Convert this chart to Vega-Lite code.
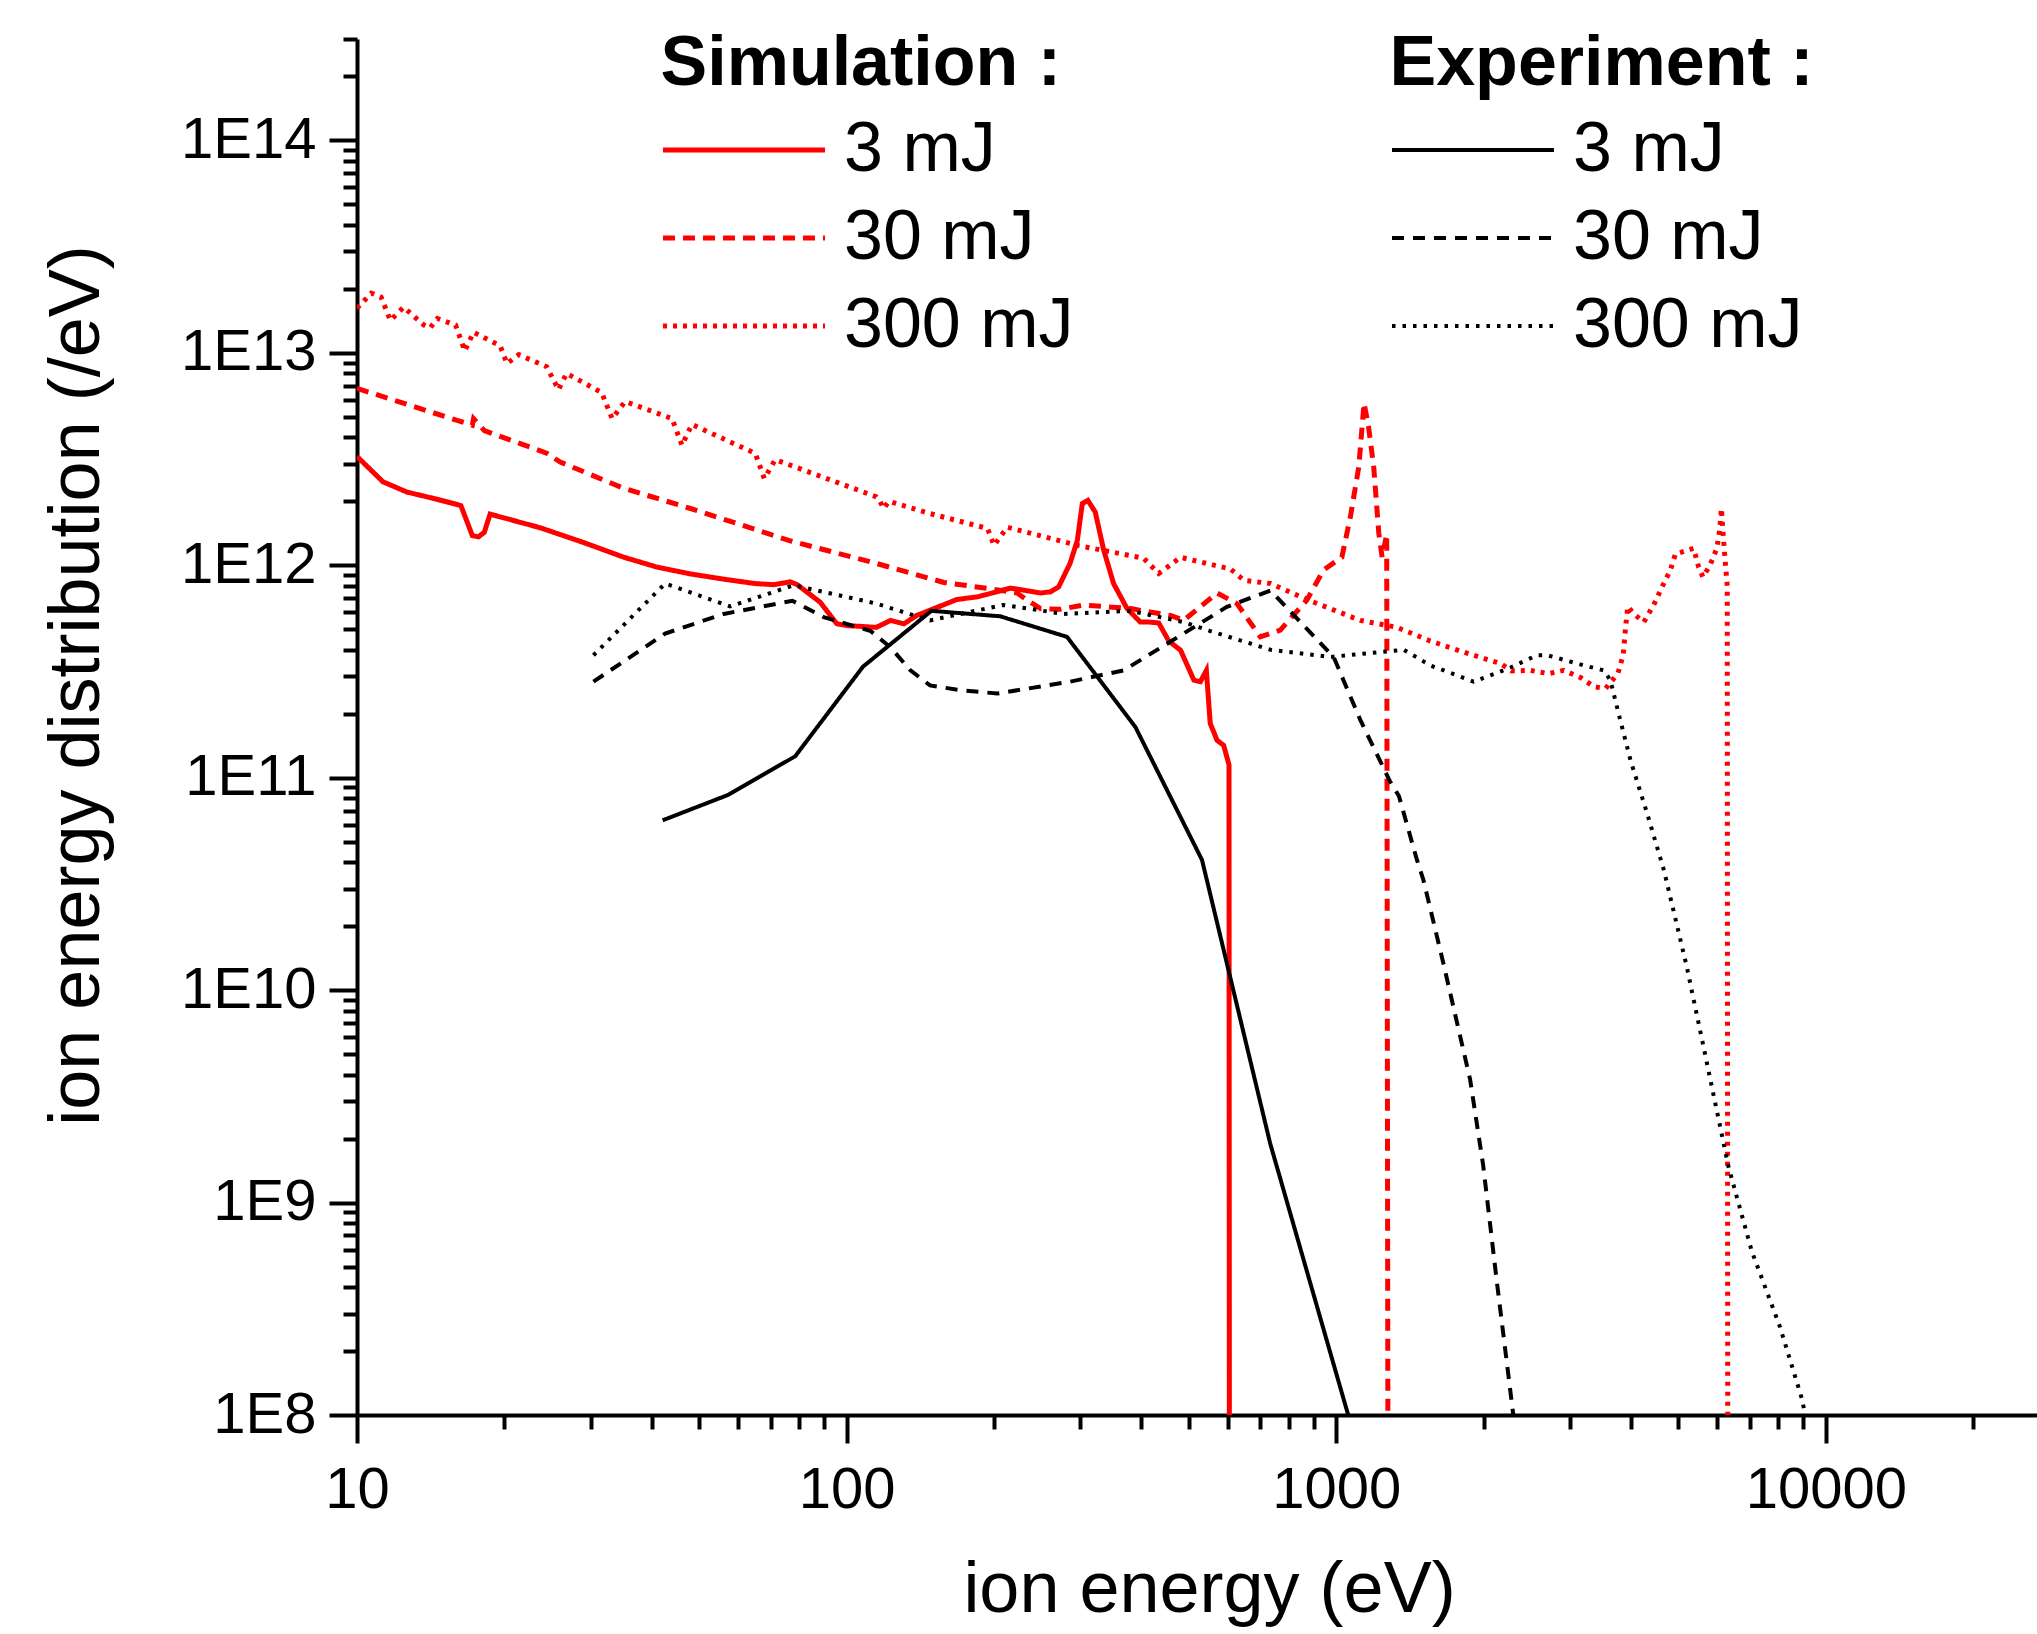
{
  "$schema": "https://vega.github.io/schema/vega-lite/v6.json",
  "width": 1680,
  "height": 1376,
  "autosize": {"type": "none"},
  "padding": {"left": 357, "top": 39, "right": 0, "bottom": 219},
  "background": "white",
  "config": {"font": "Liberation Sans", "view": {"stroke": null}},
  "datasets": {
    "sim": [
      {"pulse":"3 mJ","ion_energy":10,"distribution":3.25e12},
      {"pulse":"3 mJ","ion_energy":11.3,"distribution":2.47e12},
      {"pulse":"3 mJ","ion_energy":12.65,"distribution":2.21e12},
      {"pulse":"3 mJ","ion_energy":14.5,"distribution":2.05e12},
      {"pulse":"3 mJ","ion_energy":16.3,"distribution":1.91e12},
      {"pulse":"3 mJ","ion_energy":17.2,"distribution":1.38e12},
      {"pulse":"3 mJ","ion_energy":17.7,"distribution":1.36e12},
      {"pulse":"3 mJ","ion_energy":18.2,"distribution":1.43e12},
      {"pulse":"3 mJ","ion_energy":18.7,"distribution":1.74e12},
      {"pulse":"3 mJ","ion_energy":23.7,"distribution":1.5e12},
      {"pulse":"3 mJ","ion_energy":29,"distribution":1.28e12},
      {"pulse":"3 mJ","ion_energy":35.1,"distribution":1.09e12},
      {"pulse":"3 mJ","ion_energy":41,"distribution":9.8e11},
      {"pulse":"3 mJ","ion_energy":48,"distribution":9.1e11},
      {"pulse":"3 mJ","ion_energy":56.1,"distribution":8.6e11},
      {"pulse":"3 mJ","ion_energy":65,"distribution":8.2e11},
      {"pulse":"3 mJ","ion_energy":71,"distribution":8.1e11},
      {"pulse":"3 mJ","ion_energy":76.7,"distribution":8.35e11},
      {"pulse":"3 mJ","ion_energy":79.3,"distribution":8.1e11},
      {"pulse":"3 mJ","ion_energy":88.3,"distribution":6.7e11},
      {"pulse":"3 mJ","ion_energy":95.5,"distribution":5.3e11},
      {"pulse":"3 mJ","ion_energy":100.2,"distribution":5.2e11},
      {"pulse":"3 mJ","ion_energy":115,"distribution":5.1e11},
      {"pulse":"3 mJ","ion_energy":123,"distribution":5.5e11},
      {"pulse":"3 mJ","ion_energy":131,"distribution":5.3e11},
      {"pulse":"3 mJ","ion_energy":139,"distribution":5.8e11},
      {"pulse":"3 mJ","ion_energy":168,"distribution":6.9e11},
      {"pulse":"3 mJ","ion_energy":185,"distribution":7.1e11},
      {"pulse":"3 mJ","ion_energy":216,"distribution":7.8e11},
      {"pulse":"3 mJ","ion_energy":225,"distribution":7.7e11},
      {"pulse":"3 mJ","ion_energy":249,"distribution":7.4e11},
      {"pulse":"3 mJ","ion_energy":261,"distribution":7.5e11},
      {"pulse":"3 mJ","ion_energy":271,"distribution":7.9e11},
      {"pulse":"3 mJ","ion_energy":286,"distribution":1.02e12},
      {"pulse":"3 mJ","ion_energy":296,"distribution":1.31e12},
      {"pulse":"3 mJ","ion_energy":303,"distribution":1.95e12},
      {"pulse":"3 mJ","ion_energy":311,"distribution":2.02e12},
      {"pulse":"3 mJ","ion_energy":322,"distribution":1.78e12},
      {"pulse":"3 mJ","ion_energy":335,"distribution":1.18e12},
      {"pulse":"3 mJ","ion_energy":351,"distribution":8.2e11},
      {"pulse":"3 mJ","ion_energy":374,"distribution":6.25e11},
      {"pulse":"3 mJ","ion_energy":398,"distribution":5.4e11},
      {"pulse":"3 mJ","ion_energy":415,"distribution":5.4e11},
      {"pulse":"3 mJ","ion_energy":434,"distribution":5.35e11},
      {"pulse":"3 mJ","ion_energy":455,"distribution":4.4e11},
      {"pulse":"3 mJ","ion_energy":481,"distribution":3.98e11},
      {"pulse":"3 mJ","ion_energy":512,"distribution":2.88e11},
      {"pulse":"3 mJ","ion_energy":528,"distribution":2.83e11},
      {"pulse":"3 mJ","ion_energy":543,"distribution":3.2e11},
      {"pulse":"3 mJ","ion_energy":553,"distribution":1.8e11},
      {"pulse":"3 mJ","ion_energy":571,"distribution":1.5e11},
      {"pulse":"3 mJ","ion_energy":589,"distribution":1.42e11},
      {"pulse":"3 mJ","ion_energy":604,"distribution":1.15e11},
      {"pulse":"3 mJ","ion_energy":605,"distribution":1e8},

      {"pulse":"30 mJ","ion_energy":10,"distribution":6.8e12},
      {"pulse":"30 mJ","ion_energy":17.2,"distribution":4.56e12},
      {"pulse":"30 mJ","ion_energy":17.3,"distribution":4.9e12},
      {"pulse":"30 mJ","ion_energy":18.2,"distribution":4.3e12},
      {"pulse":"30 mJ","ion_energy":24.4,"distribution":3.37e12},
      {"pulse":"30 mJ","ion_energy":26,"distribution":3.06e12},
      {"pulse":"30 mJ","ion_energy":35.1,"distribution":2.3e12},
      {"pulse":"30 mJ","ion_energy":48,"distribution":1.85e12},
      {"pulse":"30 mJ","ion_energy":77,"distribution":1.3e12},
      {"pulse":"30 mJ","ion_energy":115,"distribution":1.02e12},
      {"pulse":"30 mJ","ion_energy":158,"distribution":8.3e11},
      {"pulse":"30 mJ","ion_energy":200,"distribution":7.7e11},
      {"pulse":"30 mJ","ion_energy":223,"distribution":7.4e11},
      {"pulse":"30 mJ","ion_energy":235,"distribution":6.8e11},
      {"pulse":"30 mJ","ion_energy":249,"distribution":6.25e11},
      {"pulse":"30 mJ","ion_energy":273,"distribution":6.2e11},
      {"pulse":"30 mJ","ion_energy":305,"distribution":6.5e11},
      {"pulse":"30 mJ","ion_energy":380,"distribution":6.25e11},
      {"pulse":"30 mJ","ion_energy":459,"distribution":5.8e11},
      {"pulse":"30 mJ","ion_energy":488,"distribution":5.5e11},
      {"pulse":"30 mJ","ion_energy":571,"distribution":7.4e11},
      {"pulse":"30 mJ","ion_energy":627,"distribution":6.6e11},
      {"pulse":"30 mJ","ion_energy":700,"distribution":4.6e11},
      {"pulse":"30 mJ","ion_energy":769,"distribution":4.95e11},
      {"pulse":"30 mJ","ion_energy":871,"distribution":6.85e11},
      {"pulse":"30 mJ","ion_energy":942,"distribution":9.5e11},
      {"pulse":"30 mJ","ion_energy":1027,"distribution":1.09e12},
      {"pulse":"30 mJ","ion_energy":1069,"distribution":1.69e12},
      {"pulse":"30 mJ","ion_energy":1112,"distribution":2.9e12},
      {"pulse":"30 mJ","ion_energy":1140,"distribution":5.8e12},
      {"pulse":"30 mJ","ion_energy":1164,"distribution":4.5e12},
      {"pulse":"30 mJ","ion_energy":1193,"distribution":2.9e12},
      {"pulse":"30 mJ","ion_energy":1222,"distribution":1.41e12},
      {"pulse":"30 mJ","ion_energy":1241,"distribution":1.09e12},
      {"pulse":"30 mJ","ion_energy":1268,"distribution":1.4e12},
      {"pulse":"30 mJ","ion_energy":1275,"distribution":1e8},

      {"pulse":"300 mJ","ion_energy":10,"distribution":1.62e13},
      {"pulse":"300 mJ","ion_energy":10.7,"distribution":1.91e13},
      {"pulse":"300 mJ","ion_energy":11.2,"distribution":1.83e13},
      {"pulse":"300 mJ","ion_energy":11.7,"distribution":1.42e13},
      {"pulse":"300 mJ","ion_energy":12.45,"distribution":1.64e13},
      {"pulse":"300 mJ","ion_energy":13.7,"distribution":1.35e13},
      {"pulse":"300 mJ","ion_energy":14.1,"distribution":1.31e13},
      {"pulse":"300 mJ","ion_energy":14.6,"distribution":1.45e13},
      {"pulse":"300 mJ","ion_energy":15.9,"distribution":1.35e13},
      {"pulse":"300 mJ","ion_energy":16.6,"distribution":1.02e13},
      {"pulse":"300 mJ","ion_energy":17.3,"distribution":1.25e13},
      {"pulse":"300 mJ","ion_energy":19.6,"distribution":1.08e13},
      {"pulse":"300 mJ","ion_energy":20.25,"distribution":8.9e12},
      {"pulse":"300 mJ","ion_energy":21.4,"distribution":9.8e12},
      {"pulse":"300 mJ","ion_energy":24.4,"distribution":8.6e12},
      {"pulse":"300 mJ","ion_energy":25.8,"distribution":6.7e12},
      {"pulse":"300 mJ","ion_energy":26.8,"distribution":8.0e12},
      {"pulse":"300 mJ","ion_energy":31.6,"distribution":6.5e12},
      {"pulse":"300 mJ","ion_energy":33.2,"distribution":4.9e12},
      {"pulse":"300 mJ","ion_energy":35.3,"distribution":5.9e12},
      {"pulse":"300 mJ","ion_energy":44,"distribution":4.9e12},
      {"pulse":"300 mJ","ion_energy":46.1,"distribution":3.67e12},
      {"pulse":"300 mJ","ion_energy":48.3,"distribution":4.6e12},
      {"pulse":"300 mJ","ion_energy":65.1,"distribution":3.36e12},
      {"pulse":"300 mJ","ion_energy":67.9,"distribution":2.56e12},
      {"pulse":"300 mJ","ion_energy":71.5,"distribution":3.14e12},
      {"pulse":"300 mJ","ion_energy":115,"distribution":2.1e12},
      {"pulse":"300 mJ","ion_energy":117,"distribution":2.0e12},
      {"pulse":"300 mJ","ion_energy":119,"distribution":1.85e12},
      {"pulse":"300 mJ","ion_energy":122,"distribution":2.0e12},
      {"pulse":"300 mJ","ion_energy":148,"distribution":1.75e12},
      {"pulse":"300 mJ","ion_energy":194,"distribution":1.49e12},
      {"pulse":"300 mJ","ion_energy":200,"distribution":1.24e12},
      {"pulse":"300 mJ","ion_energy":213,"distribution":1.51e12},
      {"pulse":"300 mJ","ion_energy":296,"distribution":1.24e12},
      {"pulse":"300 mJ","ion_energy":404,"distribution":1.08e12},
      {"pulse":"300 mJ","ion_energy":434,"distribution":9.15e11},
      {"pulse":"300 mJ","ion_energy":481,"distribution":1.09e12},
      {"pulse":"300 mJ","ion_energy":608,"distribution":9.6e11},
      {"pulse":"300 mJ","ion_energy":648,"distribution":8.5e11},
      {"pulse":"300 mJ","ion_energy":734,"distribution":8.2e11},
      {"pulse":"300 mJ","ion_energy":885,"distribution":6.8e11},
      {"pulse":"300 mJ","ion_energy":1120,"distribution":5.5e11},
      {"pulse":"300 mJ","ion_energy":1331,"distribution":5.1e11},
      {"pulse":"300 mJ","ion_energy":1556,"distribution":4.4e11},
      {"pulse":"300 mJ","ion_energy":1820,"distribution":3.9e11},
      {"pulse":"300 mJ","ion_energy":2163,"distribution":3.45e11},
      {"pulse":"300 mJ","ion_energy":2285,"distribution":3.18e11},
      {"pulse":"300 mJ","ion_energy":2490,"distribution":3.2e11},
      {"pulse":"300 mJ","ion_energy":2715,"distribution":3.09e11},
      {"pulse":"300 mJ","ion_energy":2915,"distribution":3.2e11},
      {"pulse":"300 mJ","ion_energy":3155,"distribution":2.96e11},
      {"pulse":"300 mJ","ion_energy":3360,"distribution":2.68e11},
      {"pulse":"300 mJ","ion_energy":3550,"distribution":2.63e11},
      {"pulse":"300 mJ","ion_energy":3760,"distribution":3.09e11},
      {"pulse":"300 mJ","ion_energy":3856,"distribution":3.77e11},
      {"pulse":"300 mJ","ion_energy":3900,"distribution":5.1e11},
      {"pulse":"300 mJ","ion_energy":3940,"distribution":6.4e11},
      {"pulse":"300 mJ","ion_energy":4052,"distribution":5.9e11},
      {"pulse":"300 mJ","ion_energy":4250,"distribution":5.4e11},
      {"pulse":"300 mJ","ion_energy":4450,"distribution":6.5e11},
      {"pulse":"300 mJ","ion_energy":4630,"distribution":7.9e11},
      {"pulse":"300 mJ","ion_energy":4815,"distribution":9.5e11},
      {"pulse":"300 mJ","ion_energy":4930,"distribution":1.13e12},
      {"pulse":"300 mJ","ion_energy":5110,"distribution":1.16e12},
      {"pulse":"300 mJ","ion_energy":5370,"distribution":1.2e12},
      {"pulse":"300 mJ","ion_energy":5500,"distribution":9.8e11},
      {"pulse":"300 mJ","ion_energy":5610,"distribution":8.8e11},
      {"pulse":"300 mJ","ion_energy":5800,"distribution":1.0e12},
      {"pulse":"300 mJ","ion_energy":5990,"distribution":1.2e12},
      {"pulse":"300 mJ","ion_energy":6070,"distribution":1.46e12},
      {"pulse":"300 mJ","ion_energy":6120,"distribution":1.85e12},
      {"pulse":"300 mJ","ion_energy":6200,"distribution":1.2e12},
      {"pulse":"300 mJ","ion_energy":6290,"distribution":8e11},
      {"pulse":"300 mJ","ion_energy":6305,"distribution":1e8}
    ],
    "exp": [
      {"pulse":"3 mJ","ion_energy":42.1,"distribution":6.3e10},
      {"pulse":"3 mJ","ion_energy":57.3,"distribution":8.3e10},
      {"pulse":"3 mJ","ion_energy":78.5,"distribution":1.26e11},
      {"pulse":"3 mJ","ion_energy":108,"distribution":3.33e11},
      {"pulse":"3 mJ","ion_energy":149,"distribution":6.1e11},
      {"pulse":"3 mJ","ion_energy":206,"distribution":5.75e11},
      {"pulse":"3 mJ","ion_energy":282,"distribution":4.6e11},
      {"pulse":"3 mJ","ion_energy":389,"distribution":1.73e11},
      {"pulse":"3 mJ","ion_energy":532,"distribution":4.1e10},
      {"pulse":"3 mJ","ion_energy":733,"distribution":1.9e9},
      {"pulse":"3 mJ","ion_energy":1058,"distribution":1e8},

      {"pulse":"30 mJ","ion_energy":30.4,"distribution":2.83e11},
      {"pulse":"30 mJ","ion_energy":42.6,"distribution":4.77e11},
      {"pulse":"30 mJ","ion_energy":56.1,"distribution":5.9e11},
      {"pulse":"30 mJ","ion_energy":77.5,"distribution":6.8e11},
      {"pulse":"30 mJ","ion_energy":89.8,"distribution":5.7e11},
      {"pulse":"30 mJ","ion_energy":112,"distribution":4.9e11},
      {"pulse":"30 mJ","ion_energy":123,"distribution":4.1e11},
      {"pulse":"30 mJ","ion_energy":135,"distribution":3.2e11},
      {"pulse":"30 mJ","ion_energy":148,"distribution":2.72e11},
      {"pulse":"30 mJ","ion_energy":171,"distribution":2.58e11},
      {"pulse":"30 mJ","ion_energy":203,"distribution":2.49e11},
      {"pulse":"30 mJ","ion_energy":286,"distribution":2.83e11},
      {"pulse":"30 mJ","ion_energy":368,"distribution":3.2e11},
      {"pulse":"30 mJ","ion_energy":458,"distribution":4.36e11},
      {"pulse":"30 mJ","ion_energy":598,"distribution":6.37e11},
      {"pulse":"30 mJ","ion_energy":734,"distribution":7.6e11},
      {"pulse":"30 mJ","ion_energy":988,"distribution":3.7e11},
      {"pulse":"30 mJ","ion_energy":1120,"distribution":1.87e11},
      {"pulse":"30 mJ","ion_energy":1288,"distribution":9.6e10},
      {"pulse":"30 mJ","ion_energy":1343,"distribution":8.2e10},
      {"pulse":"30 mJ","ion_energy":1462,"distribution":4.1e10},
      {"pulse":"30 mJ","ion_energy":1507,"distribution":3.3e10},
      {"pulse":"30 mJ","ion_energy":1655,"distribution":1.34e10},
      {"pulse":"30 mJ","ion_energy":1877,"distribution":3.8e9},
      {"pulse":"30 mJ","ion_energy":1996,"distribution":1.5e9},
      {"pulse":"30 mJ","ion_energy":2127,"distribution":4.3e8},
      {"pulse":"30 mJ","ion_energy":2300,"distribution":1e8},

      {"pulse":"300 mJ","ion_energy":30.4,"distribution":3.77e11},
      {"pulse":"300 mJ","ion_energy":42.6,"distribution":8.2e11},
      {"pulse":"300 mJ","ion_energy":57.8,"distribution":6.4e11},
      {"pulse":"300 mJ","ion_energy":78,"distribution":8.05e11},
      {"pulse":"300 mJ","ion_energy":115,"distribution":6.6e11},
      {"pulse":"300 mJ","ion_energy":148,"distribution":5.5e11},
      {"pulse":"300 mJ","ion_energy":209,"distribution":6.5e11},
      {"pulse":"300 mJ","ion_energy":278,"distribution":5.9e11},
      {"pulse":"300 mJ","ion_energy":380,"distribution":6.1e11},
      {"pulse":"300 mJ","ion_energy":488,"distribution":5.4e11},
      {"pulse":"300 mJ","ion_energy":553,"distribution":4.9e11},
      {"pulse":"300 mJ","ion_energy":734,"distribution":4.0e11},
      {"pulse":"300 mJ","ion_energy":973,"distribution":3.7e11},
      {"pulse":"300 mJ","ion_energy":1374,"distribution":4.0e11},
      {"pulse":"300 mJ","ion_energy":1556,"distribution":3.38e11},
      {"pulse":"300 mJ","ion_energy":1908,"distribution":2.83e11},
      {"pulse":"300 mJ","ion_energy":2270,"distribution":3.3e11},
      {"pulse":"300 mJ","ion_energy":2570,"distribution":3.77e11},
      {"pulse":"300 mJ","ion_energy":2700,"distribution":3.77e11},
      {"pulse":"300 mJ","ion_energy":2940,"distribution":3.57e11},
      {"pulse":"300 mJ","ion_energy":3200,"distribution":3.38e11},
      {"pulse":"300 mJ","ion_energy":3520,"distribution":3.2e11},
      {"pulse":"300 mJ","ion_energy":3630,"distribution":2.88e11},
      {"pulse":"300 mJ","ion_energy":3775,"distribution":2.0e11},
      {"pulse":"300 mJ","ion_energy":3990,"distribution":1.21e11},
      {"pulse":"300 mJ","ion_energy":4315,"distribution":6.8e10},
      {"pulse":"300 mJ","ion_energy":4670,"distribution":3.67e10},
      {"pulse":"300 mJ","ion_energy":5200,"distribution":1.29e10},
      {"pulse":"300 mJ","ion_energy":5710,"distribution":4.6e9},
      {"pulse":"300 mJ","ion_energy":6325,"distribution":1.48e9},
      {"pulse":"300 mJ","ion_energy":7060,"distribution":5.9e8},
      {"pulse":"300 mJ","ion_energy":8060,"distribution":2.6e8},
      {"pulse":"300 mJ","ion_energy":8930,"distribution":1.2e8},
      {"pulse":"300 mJ","ion_energy":9080,"distribution":1e8}
    ]
  },
  "encoding": {
    "x": {
      "field": "ion_energy", "type": "quantitative",
      "scale": {"type": "log", "domain": [10, 27000], "nice": false},
      "axis": {
        "title": "ion energy (eV)",
        "values": [10,20,30,40,50,60,70,80,90,100,200,300,400,500,600,700,800,900,1000,2000,3000,4000,5000,6000,7000,8000,9000,10000,20000],
        "labelExpr": "abs(log(datum.value)/LN10 - round(log(datum.value)/LN10)) < 0.001 ? '' + round(datum.value) : ''",
        "tickSize": {"condition": {"test": "abs(log(datum.value)/LN10 - round(log(datum.value)/LN10)) < 0.001", "value": 28}, "value": 14},
        "tickWidth": 4, "tickColor": "black", "domainWidth": 4, "domainColor": "black",
        "grid": false, "labelOverlap": false, "labelBound": false, "labelFlush": false,
        "labelFontSize": 58, "labelFont": "Liberation Sans", "labelColor": "black", "labelPadding": 18, "labelBaseline": "top",
        "titleFontSize": 72, "titleFont": "Liberation Sans", "titleFontWeight": "normal", "titleColor": "black",
        "titleX": 852, "titleY": 196, "titleAlign": "center", "titleBaseline": "alphabetic"
      }
    },
    "y": {
      "field": "distribution", "type": "quantitative",
      "scale": {"type": "log", "domain": [1e8, 3e14], "nice": false},
      "axis": {
        "title": "ion energy distribution (/eV)",
        "values": [1e8,2e8,3e8,4e8,5e8,6e8,7e8,8e8,9e8,1e9,2e9,3e9,4e9,5e9,6e9,7e9,8e9,9e9,1e10,2e10,3e10,4e10,5e10,6e10,7e10,8e10,9e10,1e11,2e11,3e11,4e11,5e11,6e11,7e11,8e11,9e11,1e12,2e12,3e12,4e12,5e12,6e12,7e12,8e12,9e12,1e13,2e13,3e13,4e13,5e13,6e13,7e13,8e13,9e13,1e14,2e14,3e14],
        "labelExpr": "abs(log(datum.value)/LN10 - round(log(datum.value)/LN10)) < 0.001 ? '1E' + round(log(datum.value)/LN10) : ''",
        "tickSize": {"condition": {"test": "abs(log(datum.value)/LN10 - round(log(datum.value)/LN10)) < 0.001", "value": 28}, "value": 14},
        "tickWidth": 4, "tickColor": "black", "domainWidth": 4, "domainColor": "black",
        "grid": false, "labelOverlap": false, "labelBound": false, "labelFlush": false,
        "labelFontSize": 58, "labelFont": "Liberation Sans", "labelColor": "black", "labelPadding": 13,
        "titleFontSize": 72, "titleFont": "Liberation Sans", "titleFontWeight": "normal", "titleColor": "black",
        "titleX": -259, "titleY": 646, "titleAngle": -90, "titleAlign": "center", "titleBaseline": "alphabetic"
      }
    }
  },
  "layer": [
    {
      "data": {"name": "sim"},
      "mark": {"type": "line", "strokeWidth": 5, "clip": true},
      "encoding": {
        "color": {
          "field": "pulse", "type": "nominal",
          "scale": {"domain": ["3 mJ", "30 mJ", "300 mJ"], "range": ["#ff0000", "#ff0000", "#ff0000"]},
          "legend": {"title": "Simulation :", "orient": "none", "legendX": 303.5, "legendY": -9, "direction": "vertical", "padding": 0,
            "symbolType": "M-4.5,0L4.5,0", "symbolSize": 1296, "symbolStrokeWidth": 5, "symbolOffset": 48.5,
            "labelFontSize": 70, "labelFont": "Liberation Sans", "labelColor": "black", "labelOffset": 65, "labelLimit": 1000,
            "titleFontSize": 70, "titleFont": "Liberation Sans", "titleFontWeight": "bold", "titleColor": "black", "titlePadding": 15, "titleLimit": 1000,
            "rowPadding": 18}
        },
        "strokeDash": {
          "field": "pulse", "type": "nominal",
          "scale": {"domain": ["3 mJ", "30 mJ", "300 mJ"], "range": [[1, 0], [12, 8], [4, 6]]},
          "legend": {"title": "Simulation :", "orient": "none", "legendX": 303.5, "legendY": -9, "direction": "vertical", "padding": 0,
            "symbolType": "M-4.5,0L4.5,0", "symbolSize": 1296, "symbolStrokeWidth": 5, "symbolOffset": 48.5,
            "labelFontSize": 70, "labelFont": "Liberation Sans", "labelColor": "black", "labelOffset": 65, "labelLimit": 1000,
            "titleFontSize": 70, "titleFont": "Liberation Sans", "titleFontWeight": "bold", "titleColor": "black", "titlePadding": 15, "titleLimit": 1000,
            "rowPadding": 18}
        }
      }
    },
    {
      "data": {"name": "exp"},
      "mark": {"type": "line", "strokeWidth": 4, "clip": true},
      "encoding": {
        "color": {
          "field": "pulse", "type": "nominal",
          "scale": {"domain": ["3 mJ", "30 mJ", "300 mJ"], "range": ["#000000", "#000000", "#000000"]},
          "legend": {"title": "Experiment :", "orient": "none", "legendX": 1032.5, "legendY": -9, "direction": "vertical", "padding": 0,
            "symbolType": "M-4.5,0L4.5,0", "symbolSize": 1296, "symbolStrokeWidth": 4, "symbolOffset": 48.5,
            "labelFontSize": 70, "labelFont": "Liberation Sans", "labelColor": "black", "labelOffset": 65, "labelLimit": 1000,
            "titleFontSize": 70, "titleFont": "Liberation Sans", "titleFontWeight": "bold", "titleColor": "black", "titlePadding": 15, "titleLimit": 1000,
            "rowPadding": 18}
        },
        "strokeDash": {
          "field": "pulse", "type": "nominal",
          "scale": {"domain": ["3 mJ", "30 mJ", "300 mJ"], "range": [[1, 0], [12, 9], [3.5, 7]]},
          "legend": {"title": "Experiment :", "orient": "none", "legendX": 1032.5, "legendY": -9, "direction": "vertical", "padding": 0,
            "symbolType": "M-4.5,0L4.5,0", "symbolSize": 1296, "symbolStrokeWidth": 4, "symbolOffset": 48.5,
            "labelFontSize": 70, "labelFont": "Liberation Sans", "labelColor": "black", "labelOffset": 65, "labelLimit": 1000,
            "titleFontSize": 70, "titleFont": "Liberation Sans", "titleFontWeight": "bold", "titleColor": "black", "titlePadding": 15, "titleLimit": 1000,
            "rowPadding": 18}
        }
      }
    }
  ],
  "resolve": {"scale": {"color": "independent", "strokeDash": "independent"}}
}
